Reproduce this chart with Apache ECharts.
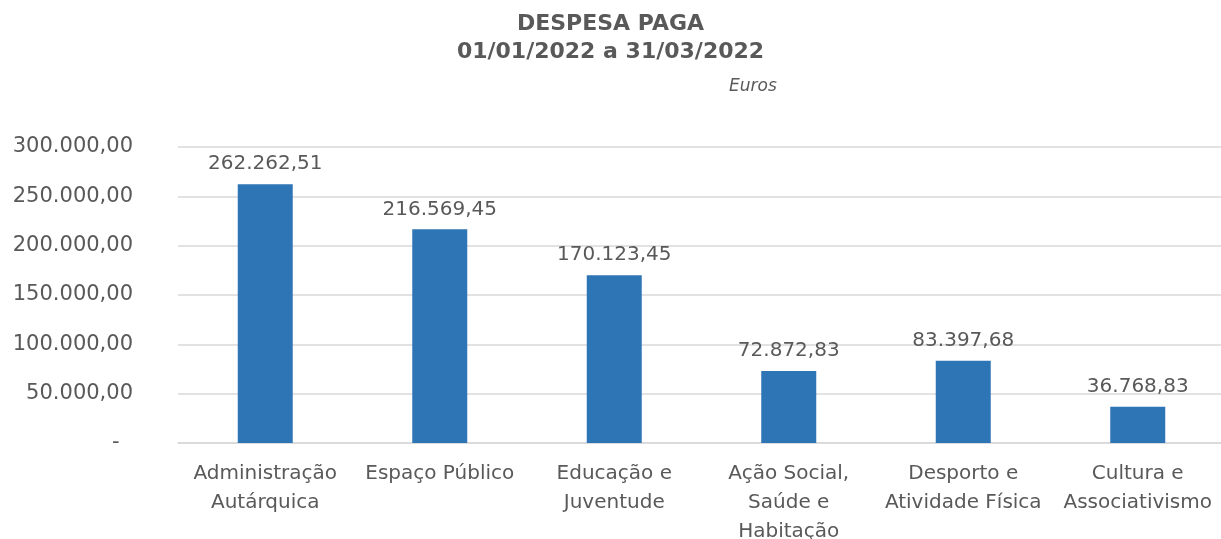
<!DOCTYPE html>
<html>
<head>
<meta charset="utf-8">
<script src="https://cdn.jsdelivr.net/npm/echarts@6/dist/echarts.min.js"></script>
<style>
    html, body { margin: 0; padding: 0; background: #fff; }
    #chart { width: 1221px; height: 539px; }
</style>
</head>
<body>
<div id="chart"></div>
<script>
    var categories = ['Administração\nAutárquica', 'Espaço Público', 'Educação e\nJuventude',
        'Ação Social,\nSaúde e\nHabitação', 'Desporto e\nAtividade Física', 'Cultura e\nAssociativismo'];
    var despesa = [262262.51, 216569.45, 170123.45, 72872.83, 83397.68, 36768.83];
    var yTicks = [0, 50000, 100000, 150000, 200000, 250000, 300000];

    // formato pt: 262.262,51 (zero aparece como "-")
    function fmt(v) {
        if (v === 0) return '-  ';
        var parts = v.toFixed(2).split('.');
        var int = parts[0].replace(/\B(?=(\d{3})+(?!\d))/g, '.');
        return int + ',' + parts[1];
    }

    var myChart = echarts.init(document.getElementById('chart'));
    var grey = '#595959';
    var font = "'DejaVu Sans', Verdana, sans-serif";

    var option = {
        backgroundColor: '#fff',
        animation: false,
        title: [
            {
                text: 'DESPESA PAGA\n01/01/2022 a 31/03/2022',
                left: 'center',
                top: 5,
                textStyle: { fontFamily: font, fontSize: 22, fontWeight: 'bold', color: grey, lineHeight: 28 }
            },
            {
                text: 'Euros',
                left: 724,
                top: 73,
                textStyle: { fontFamily: font, fontSize: 17, fontStyle: 'italic', fontWeight: 'normal', color: grey }
            }
        ],
        grid: { left: 178, right: -4, top: 147, bottom: 96, containLabel: false, outerBoundsMode: 'none' },
        xAxis: {
            type: 'category',
            data: categories,
            axisTick: { show: false },
            axisLine: { lineStyle: { color: '#d9d9d9', width: 1.5 } },
            axisLabel: {
                interval: 0, margin: 16, color: grey, fontFamily: font, fontSize: 20, lineHeight: 29,
                hideOverlap: false
            }
        },
        yAxis: {
            type: 'value',
            min: yTicks[0],
            max: yTicks[yTicks.length - 1],
            interval: yTicks[1] - yTicks[0],
            axisLine: { show: false },
            axisTick: { show: false },
            splitLine: { lineStyle: { color: '#d9d9d9', width: 1.5 } },
            axisLabel: {
                margin: 45, color: grey, fontFamily: font, fontSize: 21,
                formatter: function (v) { return fmt(v); }
            }
        },
        series: [
            {
                type: 'bar',
                data: despesa,
                barWidth: 55,
                itemStyle: { color: '#2e75b6' },
                label: {
                    show: true, position: 'top', distance: 10, color: grey,
                    fontFamily: font, fontSize: 20,
                    formatter: function (p) { return fmt(p.value); }
                }
            }
        ]
    };

    myChart.setOption(option);
</script>
</body>
</html>
